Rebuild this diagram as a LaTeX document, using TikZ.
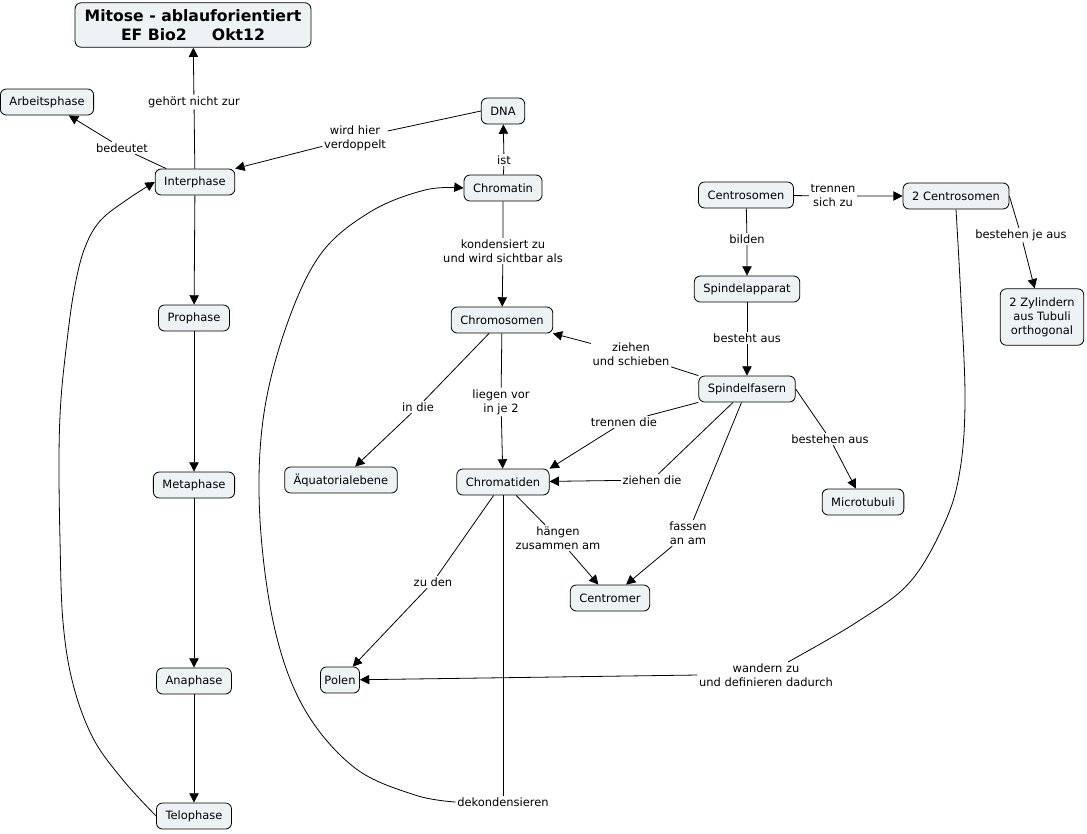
\documentclass[tikz,border=0pt]{standalone}
\usepackage{fontspec}
\setmainfont{DejaVu Sans}
\usetikzlibrary{arrows.meta}
\definecolor{conceptfill}{RGB}{237,242,244}
\tikzset{
  concept/.style={draw,fill=conceptfill,rounded corners=4.5pt,inner xsep=6.8pt,inner ysep=4pt,
    minimum height=19.5pt,align=center,font=\fontsize{8.6}{10.5}\selectfont},
  linkword/.style={inner sep=1pt,align=center,font=\fontsize{8.6}{10.5}\selectfont},
  arr/.style={-{Triangle[length=7pt,width=7pt]}},
}
\begin{document}
\begin{tikzpicture}[x=0.75pt,y=-0.75pt,line width=0.6pt]
    \useasboundingbox (0,0) rectangle (1087,833);
    % concepts
    \node[concept,font=\fontsize{11.75}{14.25}\selectfont\bfseries,inner xsep=7.2pt,inner ysep=5pt] (title) at (193,25) {Mitose - ablauforientiert\\EF Bio2\hspace{1.6em}Okt12};
    \node[concept] (arbeit) at (47,102) {Arbeitsphase};
    \node[concept] (interphase) at (195,182) {Interphase};
    \node[concept] (dna) at (503,111) {DNA};
    \node[concept] (chromatin) at (503,188) {Chromatin};
    \node[concept] (prophase) at (194,318) {Prophase};
    \node[concept] (chromosomen) at (502,320) {Chromosomen};
    \node[concept] (centrosomen) at (746,195) {Centrosomen};
    \node[concept] (zcentro) at (956,196) {2 Centrosomen};
    \node[concept] (spindelapp) at (747,289) {Spindelapparat};
    \node[concept,inner ysep=6.5pt] (zylinder) at (1042,317) {2 Zylindern\\aus Tubuli\\orthogonal};
    \node[concept] (spindelfas) at (747,389) {Spindelfasern};
    \node[concept] (aequator) at (341,480) {Äquatorialebene};
    \node[concept] (chromatiden) at (503,482) {Chromatiden};
    \node[concept] (microtub) at (863,502) {Microtubuli};
    \node[concept] (metaphase) at (194,485) {Metaphase};
    \node[concept] (centromer) at (610,598) {Centromer};
    \node[concept] (anaphase) at (194,681) {Anaphase};
    \node[concept,inner xsep=3pt] (polen) at (340,680) {Polen};
    \node[concept] (telophase) at (194,816) {Telophase};
    % linking words
    \node[linkword] (gehoert) at (194,102) {gehört nicht zur};
    \node[linkword] (bedeutet) at (122,148) {bedeutet};
    \node[linkword] (wirdhier) at (355,138) {wird hier\\verdoppelt};
    \node[linkword] (ist) at (504,160) {ist};
    \node[linkword] (kondens) at (503,251) {kondensiert zu\\und wird sichtbar als};
    \node[linkword] (trennensich) at (833,196) {trennen\\sich zu};
    \node[linkword] (bilden) at (747,239) {bilden};
    \node[linkword] (bestehenje) at (1021,235) {bestehen je aus};
    \node[linkword] (bestehtaus) at (747,338) {besteht aus};
    \node[linkword] (ziehenschieben) at (631,354) {ziehen\\und schieben};
    \node[linkword] (indie) at (418,407) {in die};
    \node[linkword] (liegenvor) at (501,402) {liegen vor\\in je 2};
    \node[linkword] (trennendie) at (624,422) {trennen die};
    \node[linkword] (bestehenaus) at (830,439) {bestehen aus};
    \node[linkword] (ziehendie) at (652,480) {ziehen die};
    \node[linkword] (haengen) at (558,538) {hängen\\zusammen am};
    \node[linkword] (fassen) at (688,533) {fassen\\an am};
    \node[linkword] (zuden) at (433,582) {zu den};
    \node[linkword] (wandern) at (766,675) {wandern zu\\und definieren dadurch};
    \node[linkword] (dekond) at (503,802) {dekondensieren};
    \coordinate (wandernin) at (788,662);
    % phases
    \draw[arr] (interphase) -- (gehoert) -- (title);
    \draw[arr] (interphase) -- (bedeutet) -- (arbeit);
    \draw[arr] (interphase) -- (prophase);
    \draw[arr] (prophase) -- (metaphase);
    \draw[arr] (metaphase) -- (anaphase);
    \draw[arr] (anaphase) -- (telophase);
    \draw[arr] plot[smooth,tension=0.6] coordinates {(telophase.west) (123,780) (93,738) (73,684) (63,622) (60,540) (59,457) (61,399) (67,341) (74,291) (84,250) (100,221) (128,199) (interphase.west)};
    % chromatin
    \draw[arr] (dna.west) -- (wirdhier) -- (interphase.north east);
    \draw[arr] (chromatin) -- (ist) -- (dna);
    \draw[arr] (chromatin) -- (kondens) -- (chromosomen);
    \draw[arr] (chromosomen) -- (indie) -- (aequator);
    \draw[arr] (chromosomen) -- (liegenvor) -- (chromatiden);
    \draw[arr] (chromatiden) -- (zuden) -- (polen);
    \draw[arr] (chromatiden) -- (haengen) -- (centromer);
    \draw (chromatiden) -- (dekond);
    \draw[arr] plot[smooth,tension=0.6] coordinates {(dekond.west) (415,795) (355,768) (305,710) (275,630) (260,520) (263,420) (285,330) (320,255) (370,212) (425,190) (chromatin.west)};
    % spindle
    \draw[arr] (centrosomen) -- (trennensich) -- (zcentro);
    \draw[arr] (centrosomen) -- (bilden) -- (spindelapp);
    \draw[arr] (zcentro.east) -- (bestehenje) -- (zylinder);
    \draw[arr] (spindelapp) -- (bestehtaus) -- (spindelfas);
    \draw[arr] (spindelfas.north west) -- (ziehenschieben) -- (chromosomen);
    \draw[arr] (spindelfas.south west) -- (trennendie) -- (chromatiden.north east);
    \draw[arr] (spindelfas) -- (ziehendie) -- (chromatiden);
    \draw[arr] (spindelfas) -- (fassen) -- (centromer);
    \draw[arr] (spindelfas.east) -- (bestehenaus) -- (microtub);
    \draw plot[smooth,tension=0.6] coordinates {(zcentro.south) (961,300) (965,400) (960,470) (945,522) (910,582) (857,622) (wandernin)};
    \draw[arr] (wandern.west) -- (polen);
\end{tikzpicture}
\end{document}
